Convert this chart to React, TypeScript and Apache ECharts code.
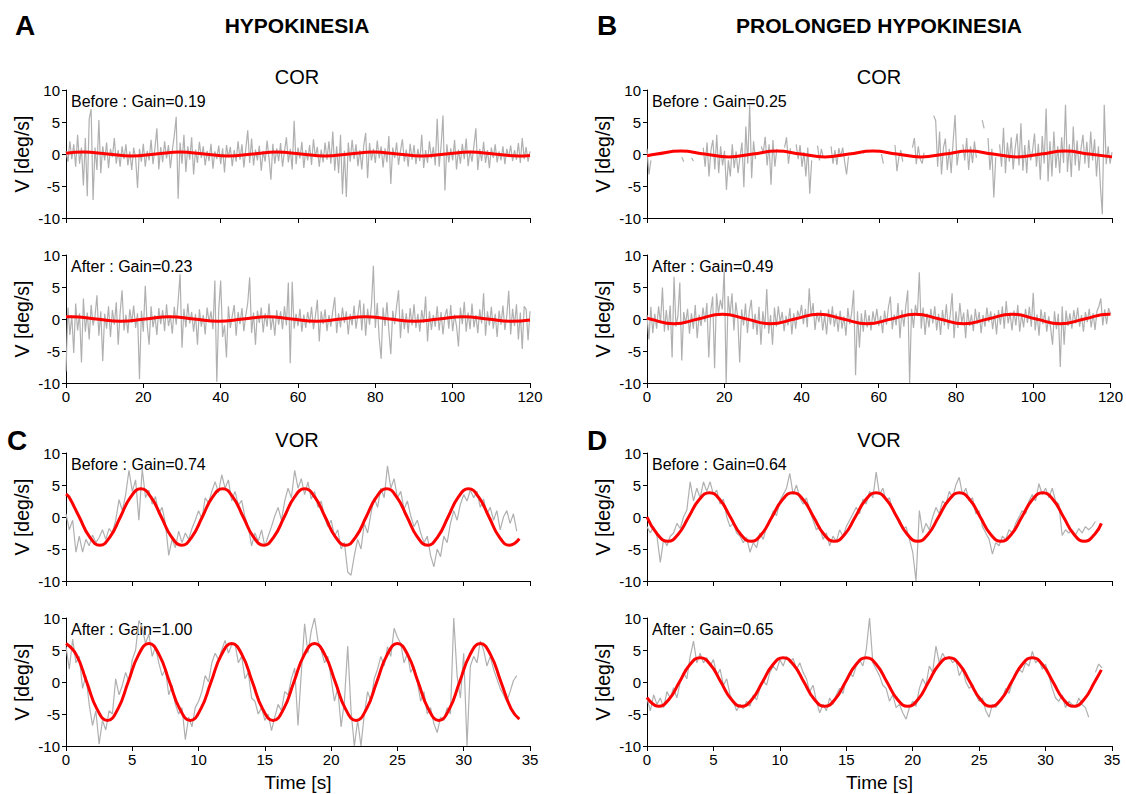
import React, { useEffect, useRef } from "react";
import * as echarts from "echarts";

const FONT = '"Liberation Sans", Arial, Helvetica, sans-serif';

// sampling steps of the recorded traces (s)
const COR_DT = 0.5;
const VOR_DT = 0.25;

// ---- grey traces (deg/s) ----
const corHypoBefore = [
  0.5,-1.2,2.0,-0.8,1.5,-2.0,3.0,-1.5,1.0,-4.9,
  2.5,-6.6,5.5,7.0,-7.2,1.0,-2.5,5.3,-3.0,1.2,
  -1.0,1.8,-2.2,0.8,-0.5,2.5,-1.5,0.6,-2.0,1.2,
  -0.8,1.5,-1.8,0.4,-2.5,1.0,-0.6,-5.3,0.8,-1.2,
  1.6,-2.0,0.5,-1.0,2.2,-1.6,0.9,4.0,-2.4,1.1,
  -1.3,2.0,-0.7,1.4,-2.2,0.6,2.8,5.8,-7.0,1.8,
  -1.5,3.0,-2.8,1.2,-0.9,2.6,-3.2,0.7,-1.4,1.9,
  -0.6,1.2,-1.8,0.5,-1.1,1.6,-2.3,0.4,-0.8,1.3,
  -1.6,0.9,-2.9,1.4,-0.5,1.1,-1.9,0.6,-1.2,2.0,
  -0.9,1.5,-2.1,0.8,3.7,-1.4,2.4,-1.8,0.7,-1.0,
  1.3,-2.6,0.5,-1.2,2.1,-0.6,-4.0,1.6,-1.5,0.9,
  -1.1,1.7,-2.0,0.4,2.6,-1.3,0.8,-2.4,5.2,-1.6,
  1.0,-0.7,1.9,-2.2,0.6,-1.0,1.4,-1.7,2.3,-0.5,
  1.1,-2.0,0.7,-1.3,1.8,-0.9,2.0,-1.5,3.5,-2.6,
  1.2,-3.0,3.0,-6.3,0.5,-6.7,1.8,-1.2,2.2,-0.8,
  1.5,-1.9,0.6,-2.4,1.3,3.3,-3.8,1.7,-1.0,0.8,
  -1.4,2.1,-0.7,1.2,-2.1,0.9,-1.3,2.8,-4.7,1.0,
  -0.6,1.8,-1.7,0.5,2.3,-1.2,0.7,-2.0,1.6,-0.9,
  1.4,-1.6,0.8,-1.1,3.0,-2.2,0.6,-1.4,2.0,-0.7,
  1.1,-1.8,5.5,-2.0,1.2,6.0,-5.7,1.5,-1.3,0.9,
  -1.0,2.2,-2.4,0.7,-1.5,1.6,-0.8,2.4,-1.9,0.5,
  -1.2,1.3,4.0,-2.5,0.8,-1.1,1.9,-1.4,0.6,-2.2,
  1.0,-0.6,1.5,-1.3,0.4,-1.0,1.2,-1.6,0.8,-0.5,
  1.3,-1.1,0.6,-0.9,1.7,-1.4,2.5,-0.8,1.1,-1.2,0.4,
];

const corHypoAfter = [
  -8.2,1.8,-2.5,0.6,-5.3,2.4,-1.8,0.9,-6.8,3.2,
  -2.0,1.0,-3.2,2.2,-1.0,0.4,3.7,-2.6,1.2,-6.6,
  0.8,-1.5,2.0,-2.8,1.4,-0.9,2.6,-4.0,1.0,4.5,
  -1.8,0.7,-2.2,1.5,-0.6,2.1,-1.4,0.9,-9.4,1.3,
  -2.0,5.2,-1.0,-4.0,2.0,-1.3,0.6,-2.5,1.7,-0.8,
  1.4,-1.9,2.3,-1.1,0.5,-2.3,1.9,-0.9,2.8,7.0,
  -4.5,1.6,-1.3,2.4,-0.7,1.1,-2.0,0.8,-4.0,1.5,
  -1.2,0.6,-2.4,1.8,-0.5,1.2,-1.6,6.0,-9.8,1.5,
  6.0,-2.8,-1.0,-6.0,2.0,-1.4,0.5,2.2,-2.6,1.1,
  -0.8,1.7,-1.9,0.6,2.5,6.5,-2.2,1.0,-4.0,1.3,
  -0.6,1.8,-2.1,0.9,-1.2,2.4,-1.7,0.5,-2.6,1.4,
  -0.9,1.2,-1.6,2.0,-1.0,5.7,-6.9,5.8,-1.5,0.8,
  -1.1,1.6,-2.0,0.7,-1.4,1.1,-0.7,1.9,-1.6,0.4,
  3.0,-3.5,1.2,-0.8,1.5,-1.9,0.6,-1.2,1.3,3.4,
  -2.2,0.9,-1.3,1.8,-0.6,1.2,-2.4,0.8,-1.0,2.1,
  -1.5,0.7,3.0,-1.8,2.4,-2.6,1.6,-0.9,2.2,8.3,
  -1.4,2.5,-3.0,-6.2,1.8,-1.1,2.6,-1.8,-5.5,1.3,
  -0.8,2.0,4.5,-3.0,1.5,-1.6,0.9,-2.2,1.7,-1.0,
  2.3,-1.4,0.8,-2.0,1.4,-0.6,3.5,-3.5,1.2,-1.7,
  0.6,-1.2,2.0,-1.8,1.1,-2.4,0.5,1.6,-1.5,2.2,
  -1.9,0.7,-1.1,-4.3,1.8,-0.8,2.7,-2.0,1.0,-1.6,
  2.4,-1.3,0.6,-2.2,1.5,-0.7,4.0,-2.6,1.2,-1.0,
  1.9,-1.5,0.8,-2.8,1.3,-0.9,2.1,-1.7,0.5,4.4,
  -2.4,1.6,-1.1,2.3,-3.2,1.0,-4.7,2.0,1.5,-3.3,1.2,
];

const corProlBefore = [
  0.8,-3.2,-1.0,null,null,null,null,null,null,null,
  null,null,null,null,null,null,null,null,-0.5,-1.2,
  null,null,null,-0.6,-1.1,null,null,null,null,1.0,
  -2.0,1.8,-3.5,0.6,2.2,-2.4,3.0,-3.0,1.2,-1.8,
  0.5,-5.6,-1.0,-3.5,1.5,-2.2,0.4,-3.0,-0.5,1.8,
  -5.2,4.3,-1.5,7.7,-3.8,2.0,-0.8,null,null,1.2,
  0.2,2.7,-1.8,1.5,-4.8,2.2,-2.0,0.8,null,null,
  null,1.0,2.6,-1.5,0.9,null,null,1.5,-0.8,1.4,
  -2.0,0.3,-3.5,1.0,-6.2,-1.0,null,null,1.3,-1.0,
  0.8,-0.6,null,null,null,1.2,-1.5,0.6,-1.7,0.9,
  -0.5,1.0,-1.2,-3.2,-0.4,null,null,null,null,null,
  null,0.4,0.1,null,null,null,null,null,null,null,
  null,0.0,-1.5,null,null,null,null,null,1.4,-2.7,
  -0.5,0.6,-1.2,null,null,null,null,1.0,2.5,-1.6,
  1.2,-0.8,-1.5,0.2,null,null,null,null,6.0,5.2,
  -2.0,3.5,-3.2,1.0,2.4,-2.5,0.8,-3.0,2.0,6.1,
  -1.8,0.5,null,1.5,-1.0,2.5,-2.5,1.2,-1.4,2.0,
  -0.6,null,null,5.3,4.0,null,2.5,-2.5,0.8,-6.8,
  -0.5,null,1.5,-2.0,4.1,-3.0,1.8,-1.2,2.6,-2.4,
  0.9,3.2,-1.8,4.8,-2.6,1.4,-3.0,2.2,-1.0,0.5,
  3.2,-2.0,1.6,-4.0,2.8,-1.5,7.1,-4.3,2.0,-3.5,
  3.5,-2.2,1.2,-3.0,2.6,-1.4,7.7,-2.8,1.5,-3.6,
  4.3,-1.8,2.1,-2.6,0.8,3.0,-1.5,1.9,-2.2,3.5,
  -1.0,2.3,-3.5,1.2,-5.0,-9.4,7.7,-1.6,1.2,-1.5,0.3,
];

const corProlAfter = [
  0.6,-3.2,1.9,-2.2,0.8,-1.5,2.0,-0.7,4.9,-2.0,
  1.4,-1.8,2.1,-6.0,6.6,-1.2,0.5,5.7,-6.5,1.1,
  -0.8,1.6,-2.3,0.9,-1.5,2.2,-3.0,0.7,-1.1,1.8,
  -0.5,2.5,-6.0,1.2,3.5,-7.7,4.0,0.8,3.0,1.5,
  7.8,-10.0,3.6,0.5,4.0,-1.8,2.6,0.2,-6.8,1.5,
  -1.0,2.4,-2.2,1.2,3.0,-1.6,0.8,-2.5,1.9,-4.0,
  1.2,-1.5,4.7,-2.3,0.6,-4.0,1.8,-1.2,2.0,-0.6,
  1.1,-1.9,0.5,-1.0,1.7,-2.4,0.9,-1.5,1.3,0.2,
  2.2,-0.8,1.6,-1.3,4.8,0.4,2.5,-1.7,1.0,-0.5,
  1.4,-1.8,0.6,-2.4,1.5,-0.9,2.0,-1.2,0.8,-2.0,
  1.3,-1.5,0.4,-2.6,1.7,-0.8,1.0,4.5,-8.8,1.2,
  -4.5,0.9,-2.0,1.4,-1.3,0.6,-1.8,1.2,-0.7,1.6,
  -1.1,0.5,-2.2,1.3,-0.9,1.8,3.5,-1.6,0.7,-1.0,
  2.5,-3.0,1.4,-1.2,2.0,4.5,-10.0,1.6,-1.4,2.2,
  0.5,7.3,-1.5,1.8,-2.5,0.9,-1.3,1.6,-0.7,2.0,
  -1.8,0.8,-2.5,1.4,-1.0,2.3,-1.6,0.6,4.0,-3.0,
  1.2,-1.4,2.5,-0.6,1.0,-3.0,1.5,-1.1,0.7,-1.9,
  1.6,-0.8,1.1,-2.2,0.6,-1.2,1.8,-0.5,1.2,-1.6,
  0.9,-2.4,1.4,-0.9,2.0,-1.5,2.8,-0.7,1.0,-1.8,
  1.3,-1.0,2.2,-2.0,0.8,-1.3,1.6,-0.6,1.9,-1.2,
  4.1,-1.8,0.7,-2.6,1.5,-0.8,1.1,-2.0,0.4,-1.4,
  -4.0,1.2,-1.6,0.8,-7.5,2.0,-4.0,1.3,-1.1,0.9,
  -1.5,1.4,-0.7,1.8,-1.2,0.6,-2.0,1.1,-0.5,1.6,
  -1.3,0.9,-1.7,1.2,2.0,3.2,-1.0,1.5,-0.8,1.7,0.8,
];

const vorHypoBefore = [
  0.5,-2.0,-0.5,-5.5,-3.0,-5.5,-3.5,-4.5,-2.8,-4.0,
  -3.2,-2.0,-3.5,-1.8,-2.5,-0.5,2.7,1.0,3.5,7.3,
  4.0,5.8,-0.5,7.5,3.0,4.2,2.0,3.2,0.5,1.5,
  -1.0,-6.0,-3.5,-4.8,-2.2,-4.0,-2.5,-3.5,-1.8,-0.5,
  1.0,-0.3,3.0,2.2,4.0,5.5,3.8,6.6,4.5,5.8,
  2.5,4.0,1.8,2.6,0.0,-1.5,-4.5,-2.5,-3.8,-2.0,
  -4.6,-3.0,-1.5,0.2,1.5,-0.5,2.5,4.5,3.0,7.3,
  4.5,6.0,3.5,5.5,2.8,4.0,1.5,2.5,0.0,-1.5,
  -0.5,-3.0,-2.0,-5.0,-4.0,-8.6,-9.1,-6.0,-3.5,-5.0,
  -1.0,-2.5,0.5,3.0,1.5,4.5,3.0,8.0,4.5,6.0,
  3.0,4.0,1.2,2.5,0.2,-1.5,-0.5,-2.5,-4.0,-3.0,
  -6.0,-7.8,-5.0,-6.2,-3.0,-4.0,-1.0,1.0,-0.5,2.0,
  3.5,2.5,4.2,3.0,4.0,1.5,2.8,0.5,1.5,-0.5,
  1.0,-2.0,0.0,1.0,-1.0,0.5,-2.2,
];

const vorHypoAfter = [
  5.5,2.0,6.7,3.0,4.0,-1.0,1.0,-3.5,-6.8,-4.5,
  -9.7,-6.0,-7.5,-4.5,-5.0,0.5,-2.0,-0.5,1.5,0.0,
  3.5,5.0,9.6,8.5,6.0,7.5,4.0,5.5,3.0,1.0,
  2.0,-2.0,-0.5,-3.5,-5.0,-4.0,-9.0,-5.5,-7.0,-4.0,
  -3.0,-1.5,1.0,0.0,3.0,4.5,3.5,5.0,6.5,4.5,
  5.8,6.0,3.0,4.0,0.5,1.5,-2.5,-3.0,-5.0,-4.0,
  -6.0,-5.0,-7.6,-5.5,-3.5,-4.5,-1.5,-2.0,0.5,2.2,
  -6.8,1.5,9.1,4.5,8.0,10.0,6.5,5.0,3.0,4.0,
  0.5,-3.0,-1.0,-7.0,-3.0,5.6,-4.5,-10.0,-6.0,-10.0,
  -5.0,-1.5,-3.0,0.5,2.0,4.0,2.5,5.5,4.0,8.4,
  7.0,6.0,3.0,4.5,1.5,2.5,0.0,-3.0,-1.5,-5.0,
  -4.0,-6.5,-7.9,-5.5,-6.0,-4.0,-5.0,10.0,1.0,-2.5,
  4.5,-10.0,2.5,4.0,3.0,6.4,5.0,2.5,4.0,2.0,
  0.5,-1.0,-2.0,-3.0,-1.5,0.2,1.0,
];

const vorProlBefore = [
  -1.5,-2.5,-1.5,-3.0,-7.1,-3.5,-4.5,-3.0,-2.5,-1.0,
  -1.8,0.0,1.1,5.5,2.5,4.5,3.0,5.5,4.0,5.5,
  3.5,4.2,2.0,2.8,0.0,-1.5,-1.0,-2.5,-3.0,-4.0,
  -3.2,-5.5,-4.0,-4.8,-2.5,-3.5,-1.5,-0.5,1.0,0.2,
  2.5,3.5,4.5,6.8,3.5,5.0,3.0,2.0,3.0,1.0,
  -0.5,-2.0,-1.5,-3.5,-2.5,-4.5,-3.0,-3.8,-2.0,-3.0,
  -1.5,-0.5,0.5,1.5,0.5,2.8,2.0,4.0,3.0,7.0,
  3.5,4.5,2.5,3.0,1.0,0.0,-1.0,-2.0,-1.5,-3.5,
  -5.5,-10.0,1.0,-2.5,-1.0,-2.0,0.0,1.5,0.5,2.5,
  2.0,4.0,3.0,5.0,6.2,3.5,4.5,2.5,3.0,0.5,
  1.0,-1.5,-2.5,-3.5,-5.8,-4.0,-4.5,-3.0,-3.5,-2.0,
  -2.5,-1.0,0.0,1.0,0.5,2.5,3.5,2.5,5.2,3.5,
  4.5,3.0,4.5,2.5,2.0,-2.9,-2.0,-2.5,-2.0,-2.8,
  -1.8,-2.5,-1.5,-2.0,-1.5,-0.7,
];

const vorProlAfter = [
  -2.5,-4.5,-2.0,-3.5,-2.5,-4.0,-1.5,-2.5,-0.9,-2.5,
  0.0,1.5,0.5,4.0,6.4,3.0,4.5,3.0,3.8,2.5,
  3.5,1.0,2.0,-0.5,0.5,-2.0,-3.0,-4.5,-3.5,-4.2,
  -3.0,-3.8,-2.0,-2.8,-1.0,0.2,-0.5,1.5,2.5,1.8,
  3.5,2.5,4.0,3.0,3.7,2.0,3.0,1.5,0.5,-1.5,
  -0.5,-3.0,-4.8,-3.5,-4.5,-2.5,-3.5,-2.0,-1.0,-1.8,
  0.5,1.5,0.8,2.5,3.5,2.5,5.0,10.0,3.0,2.0,
  1.0,-0.5,-1.0,-3.0,-2.0,-4.0,-3.5,-4.8,-5.8,-4.0,
  -3.0,-3.8,-1.0,0.5,-0.5,2.5,1.5,5.6,3.0,4.5,
  3.5,4.0,3.0,3.5,1.0,2.0,0.0,-1.0,-0.5,-2.0,
  -3.0,-2.5,-4.5,-5.5,-3.5,-4.0,-3.0,-2.5,-1.0,-1.8,
  0.0,1.0,2.0,1.5,3.0,2.5,4.8,3.0,3.5,2.0,
  2.8,1.0,-1.0,-2.5,-3.0,-2.0,-4.0,-3.0,-3.5,-4.0,
  -2.5,-3.5,-4.0,-5.5,null,1.5,2.8,2.2,
];

// ---- red fitted curves, [time, deg/s] ----
const fitCorHypoBefore = [[0,0.13],[4.5,0.3],[10.75,0],[17,-0.3],[23.25,0],[29.5,0.3],[35.75,0],[42,-0.3],[48.25,0],[54.5,0.3],[60.75,0],[67,-0.3],[73.25,0],[79.5,0.3],[85.75,0],[92,-0.3],[98.25,0],[104.5,0.3],[110.75,0],[117,-0.3],[120,-0.22]];
const fitCorHypoAfter = [[0,0.34],[1.5,0.35],[7.8,0],[14.15,-0.35],[20.5,0],[26.8,0.35],[33.1,0],[39.45,-0.35],[45.8,0],[52.1,0.35],[58.4,0],[64.75,-0.35],[71.1,0],[77.4,0.35],[83.7,0],[90.05,-0.35],[96.4,0],[102.7,0.35],[109,0],[115.35,-0.35],[120,-0.14]];
const fitCorProlBefore = [[0,-0.26],[2.5,0],[8.7,0.45],[14.9,0],[21.1,-0.45],[27.3,0],[33.5,0.45],[39.7,0],[45.9,-0.45],[52.1,0],[58.3,0.45],[64.5,0],[70.7,-0.45],[76.9,0],[83.1,0.45],[89.3,0],[95.5,-0.45],[101.7,0],[107.9,0.45],[114.1,0],[120,-0.45]];
const fitCorProlAfter = [[0,0.14],[0.75,0],[7,-0.75],[13.25,0],[19.5,0.75],[25.75,0],[32,-0.75],[38.25,0],[44.5,0.75],[50.75,0],[57,-0.75],[63.25,0],[69.5,0.75],[75.75,0],[82,-0.75],[88.25,0],[94.5,0.75],[100.75,0],[107,-0.75],[113.25,0],[119.5,0.75],[120,0.75]];
const fitVorHypoBefore = [[0,3.6],[0.23,3.11],[1.0,0],[1.78,-3.11],[2.55,-4.4],[3.32,-3.11],[4.1,0],[4.87,3.11],[5.64,4.4],[6.41,3.11],[7.19,0],[7.96,-3.11],[8.73,-4.4],[9.5,-3.11],[10.28,0],[11.05,3.11],[11.82,4.4],[12.59,3.11],[13.37,0],[14.14,-3.11],[14.91,-4.4],[15.68,-3.11],[16.46,0],[17.23,3.11],[18.0,4.4],[18.77,3.11],[19.55,0],[20.32,-3.11],[21.09,-4.4],[21.86,-3.11],[22.64,0],[23.41,3.11],[24.18,4.4],[24.95,3.11],[25.73,0],[26.5,-3.11],[27.27,-4.4],[28.04,-3.11],[28.82,0],[29.59,3.11],[30.36,4.4],[31.13,3.11],[31.91,0],[32.68,-3.11],[33.45,-4.4],[34.2,-3.4]];
const fitVorHypoAfter = [[0,6],[0.78,4.24],[1.56,0],[2.34,-4.24],[3.125,-6],[3.91,-4.24],[4.69,0],[5.47,4.24],[6.25,6],[7.03,4.24],[7.81,0],[8.59,-4.24],[9.375,-6],[10.16,-4.24],[10.94,0],[11.72,4.24],[12.5,6],[13.28,4.24],[14.06,0],[14.84,-4.24],[15.625,-6],[16.41,-4.24],[17.19,0],[17.97,4.24],[18.75,6],[19.53,4.24],[20.31,0],[21.09,-4.24],[21.875,-6],[22.66,-4.24],[23.44,0],[24.22,4.24],[25.0,6],[25.78,4.24],[26.56,0],[27.34,-4.24],[28.125,-6],[28.91,-4.24],[29.69,0],[30.47,4.24],[31.25,6],[32.03,4.24],[32.81,0],[33.59,-4.24],[34.2,-5.8]];
const fitVorProlBefore = [[0,0],[0.78,-2.69],[1.57,-3.8],[2.35,-2.69],[3.135,0],[3.92,2.69],[4.7,3.8],[5.49,2.69],[6.27,0],[7.05,-2.69],[7.84,-3.8],[8.62,-2.69],[9.405,0],[10.19,2.69],[10.97,3.8],[11.76,2.69],[12.54,0],[13.32,-2.69],[14.11,-3.8],[14.89,-2.69],[15.675,0],[16.46,2.69],[17.24,3.8],[18.03,2.69],[18.81,0],[19.59,-2.69],[20.38,-3.8],[21.16,-2.69],[21.945,0],[22.73,2.69],[23.51,3.8],[24.3,2.69],[25.08,0],[25.86,-2.69],[26.65,-3.8],[27.43,-2.69],[28.215,0],[29.0,2.69],[29.78,3.8],[30.57,2.69],[31.35,0],[32.13,-2.69],[32.92,-3.8],[33.7,-2.69],[34.2,-1.0]];
const fitVorProlAfter = [[0,-2.42],[0.875,-3.8],[1.66,-2.69],[2.44,0],[3.22,2.69],[4.0,3.8],[4.78,2.69],[5.56,0],[6.34,-2.69],[7.125,-3.8],[7.91,-2.69],[8.69,0],[9.47,2.69],[10.25,3.8],[11.03,2.69],[11.81,0],[12.59,-2.69],[13.375,-3.8],[14.16,-2.69],[14.94,0],[15.72,2.69],[16.5,3.8],[17.28,2.69],[18.06,0],[18.84,-2.69],[19.625,-3.8],[20.41,-2.69],[21.19,0],[21.97,2.69],[22.75,3.8],[23.53,2.69],[24.31,0],[25.09,-2.69],[25.875,-3.8],[26.66,-2.69],[27.44,0],[28.22,2.69],[29.0,3.8],[29.78,2.69],[30.56,0],[31.34,-2.69],[32.125,-3.8],[32.91,-2.69],[33.69,0],[34.2,1.9]];

// ---- text ----
const notes = [
  "Before : Gain=0.19", "After : Gain=0.23", "Before : Gain=0.25", "After : Gain=0.49",
  "Before : Gain=0.74", "After : Gain=1.00", "Before : Gain=0.64", "After : Gain=0.65",
];
const Y_TICKS = { min: -10, max: 10, interval: 5 };
const COR_X = { max: 120, interval: 20 };
const VOR_X = { max: 35, interval: 5 };

// ---- layout ----
const COL_LEFT = [66, 647];
const COL_W = [464, 465];
const ROW_TOP = [90, 255, 453, 618];
const ROW_H = 128;

const panels = [
  { col: 0, row: 0, grey: corHypoBefore, dt: COR_DT, fit: fitCorHypoBefore, x: COR_X, labels: false, xName: "" },
  { col: 0, row: 1, grey: corHypoAfter, dt: COR_DT, fit: fitCorHypoAfter, x: COR_X, labels: true, xName: "" },
  { col: 1, row: 0, grey: corProlBefore, dt: COR_DT, fit: fitCorProlBefore, x: COR_X, labels: false, xName: "" },
  { col: 1, row: 1, grey: corProlAfter, dt: COR_DT, fit: fitCorProlAfter, x: COR_X, labels: true, xName: "" },
  { col: 0, row: 2, grey: vorHypoBefore, dt: VOR_DT, fit: fitVorHypoBefore, x: VOR_X, labels: false, xName: "" },
  { col: 0, row: 3, grey: vorHypoAfter, dt: VOR_DT, fit: fitVorHypoAfter, x: VOR_X, labels: true, xName: "Time [s]" },
  { col: 1, row: 2, grey: vorProlBefore, dt: VOR_DT, fit: fitVorProlBefore, x: VOR_X, labels: false, xName: "" },
  { col: 1, row: 3, grey: vorProlAfter, dt: VOR_DT, fit: fitVorProlAfter, x: VOR_X, labels: true, xName: "Time [s]" },
];

const toPairs = (vals: (number | null)[], dt: number) =>
  vals.map((v, i) => [Math.round(i * dt * 1000) / 1000, v === null ? "-" : v]);

export default function App() {
  const ref = useRef<HTMLDivElement>(null);
  useEffect(() => {
    if (!ref.current) return;
    const chart = echarts.init(ref.current, undefined, { renderer: "svg" });
    const black = "#000";
    const grid = panels.map((p) => ({
      left: COL_LEFT[p.col], top: ROW_TOP[p.row], width: COL_W[p.col], height: ROW_H,
    }));
    const xAxis = panels.map((p, i) => ({
      type: "value", gridIndex: i, min: 0, max: p.x.max, interval: p.x.interval,
      axisLine: { show: true, onZero: false, lineStyle: { color: black, width: 1 } },
      axisTick: { show: true, length: 5, lineStyle: { color: black, width: 1 } },
      axisLabel: { show: p.labels, color: black, fontSize: 15, fontFamily: FONT, margin: 6 },
      splitLine: { show: false },
      name: p.xName, nameLocation: "middle", nameGap: 27,
      nameTextStyle: { color: black, fontSize: 19, fontFamily: FONT },
    }));
    const yAxis = panels.map((p, i) => ({
      type: "value", gridIndex: i, min: Y_TICKS.min, max: Y_TICKS.max, interval: Y_TICKS.interval,
      axisLine: { show: true, lineStyle: { color: black, width: 1 } },
      axisTick: { show: true, length: 4, lineStyle: { color: black, width: 1 } },
      axisLabel: { color: black, fontSize: 15, fontFamily: FONT, margin: 6 },
      splitLine: { show: false },
      name: "V [deg/s]", nameLocation: "middle", nameGap: 34, nameRotate: 90,
      nameTextStyle: { color: black, fontSize: 19.5, fontFamily: FONT },
    }));
    const series: any[] = [];
    panels.forEach((p, i) => {
      series.push({
        type: "line", xAxisIndex: i, yAxisIndex: i, data: toPairs(p.grey, p.dt),
        showSymbol: false, symbol: "none", connectNulls: false,
        lineStyle: { color: "#b0b0b0", width: 1.2 }, z: 2, silent: true,
      });
      series.push({
        type: "line", xAxisIndex: i, yAxisIndex: i, data: p.fit, smooth: true,
        showSymbol: false, symbol: "none",
        lineStyle: { color: "#ff0000", width: 3 }, z: 3, silent: true,
      });
    });
    const txt = (x: number, y: number, text: string, size: number, bold = false, align = "center") => ({
      type: "text", x, y, silent: true,
      style: {
        text, fontSize: size, fontWeight: bold ? "bold" : "normal", fontFamily: FONT,
        fill: black, align, verticalAlign: "middle",
      },
    });
    const graphic: any[] = [
      txt(25, 25, "A", 28, true),
      txt(297, 25, "HYPOKINESIA", 21, true),
      txt(607, 25, "B", 28, true),
      txt(879, 25, "PROLONGED HYPOKINESIA", 21, true),
      txt(297, 77, "COR", 20),
      txt(879, 77, "COR", 20),
      txt(17, 440, "C", 28, true),
      txt(297, 440, "VOR", 20),
      txt(597, 440, "D", 28, true),
      txt(879, 440, "VOR", 20),
    ];
    panels.forEach((p, i) => {
      graphic.push(txt(COL_LEFT[p.col] + 5, ROW_TOP[p.row] + 11, notes[i], 16, false, "left"));
    });
    chart.setOption({
      animation: false,
      backgroundColor: "#fff",
      grid, xAxis, yAxis, series, graphic,
    });
    return () => chart.dispose();
  }, []);
  return (
    <div
      ref={ref}
      style={{ position: "absolute", left: 0, top: 0, width: 1126, height: 794 }}
    />
  );
}
